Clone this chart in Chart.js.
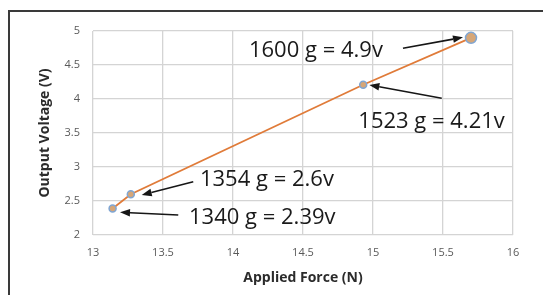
<!DOCTYPE html>
<html>
<head>
<meta charset="utf-8">
<script src="https://cdn.jsdelivr.net/npm/chart.js@4.4.1/dist/chart.umd.min.js"></script>
<style>
  html, body { margin: 0; padding: 0; background: #ffffff; overflow: hidden; }
  #wrap { position: relative; width: 543px; height: 295px; }
  #frame { position: absolute; left: 8px; top: 10px; width: 600px; height: 400px;
           border-top: 2px solid #3a3a3a; border-left: 2px solid #3a3a3a; }
  canvas { position: absolute; left: 0; top: 0; }
</style>
</head>
<body>
<div id="wrap">
  <div id="frame"></div>
  <canvas id="c" width="543" height="295"></canvas>
</div>
<script>
// ---- data ----
const forceN = [13.14, 13.27, 14.93, 15.70];
const voltage = [2.39, 2.6, 4.21, 4.9];
const xTicksMin = 13, xTicksMax = 16, xStep = 0.5;
const yTicksMin = 2, yTicksMax = 5, yStep = 0.5;

// annotations (positions in data units)
const annText = ['1600 g = 4.9v', '1523 g = 4.21v', '1354 g = 2.6v', '1340 g = 2.39v'];
const annX = [14.114, 14.895, 13.764, 13.686];
const annY = [4.618, 3.578, 2.721, 2.162];
const arrowFromX = [15.214, 15.491, 13.716, 13.609];
const arrowFromY = [4.746, 4.010, 2.784, 2.294];
const arrowToX = [15.643, 14.974, 13.348, 13.193];
const arrowToY = [4.907, 4.206, 2.588, 2.334];

const fmt = v => String(Math.round(v * 10) / 10);

const annotationPlugin = {
  id: 'annots',
  afterDatasetsDraw(chart) {
    const ctx = chart.ctx;
    const xs = chart.scales.x, ys = chart.scales.y;
    ctx.save();
    // arrows
    for (let i = 0; i < annText.length; i++) {
      const x1 = xs.getPixelForValue(arrowFromX[i]), y1 = ys.getPixelForValue(arrowFromY[i]);
      const x2 = xs.getPixelForValue(arrowToX[i]), y2 = ys.getPixelForValue(arrowToY[i]);
      const ang = Math.atan2(y2 - y1, x2 - x1);
      const hl = 10, hw = 3.8;
      const bx = x2 - hl * Math.cos(ang), by = y2 - hl * Math.sin(ang);
      ctx.strokeStyle = '#161616';
      ctx.fillStyle = '#161616';
      ctx.lineWidth = 1.6;
      ctx.beginPath();
      ctx.moveTo(x1, y1);
      ctx.lineTo(bx, by);
      ctx.stroke();
      ctx.beginPath();
      ctx.moveTo(x2, y2);
      ctx.lineTo(bx + hw * Math.sin(ang), by - hw * Math.cos(ang));
      ctx.lineTo(bx - hw * Math.sin(ang), by + hw * Math.cos(ang));
      ctx.closePath();
      ctx.fill();
    }
    // labels
    ctx.font = '22px "Open Sans", sans-serif';
    ctx.fillStyle = '#1a1a1a';
    ctx.textAlign = 'left';
    ctx.textBaseline = 'alphabetic';
    for (let i = 0; i < annText.length; i++) {
      ctx.fillText(annText[i], xs.getPixelForValue(annX[i]), ys.getPixelForValue(annY[i]));
    }
    ctx.restore();
  }
};

new Chart(document.getElementById('c'), {
  type: 'scatter',
  data: {
    datasets: [{
      data: forceN.map((x, i) => ({ x: x, y: voltage[i] })),
      showLine: true,
      borderColor: '#e07b39',
      borderWidth: 1.8,
      pointRadius: ctx => ctx.dataIndex === forceN.length - 1 ? 5.5 : 3.5,
      pointBackgroundColor: '#d6a677',
      pointBorderColor: '#7fa6d4',
      pointBorderWidth: 1.5,
      tension: 0
    }]
  },
  plugins: [annotationPlugin],
  options: {
    responsive: false,
    animation: false,
    devicePixelRatio: 1,
    layout: { padding: { left: 0, top: 31, right: 30, bottom: 0 } },
    plugins: { legend: { display: false }, tooltip: { enabled: false } },
    scales: {
      x: {
        type: 'linear',
        min: xTicksMin, max: xTicksMax,
        afterFit: s => { s.height = 60; },
        ticks: { stepSize: xStep, padding: 11, color: '#595959', callback: fmt,
                 font: { family: '"Open Sans", sans-serif', size: 11 } },
        grid: { color: '#d4d4d4', lineWidth: 1.3, drawTicks: false },
        border: { display: false },
        title: { display: true, text: 'Applied Force (N)', color: '#2b2b2b',
                 font: { family: '"Open Sans", sans-serif', size: 14, weight: 'bold' },
                 padding: { top: 0, bottom: 8.6 } }
      },
      y: {
        type: 'linear',
        min: yTicksMin, max: yTicksMax,
        afterFit: s => { s.width = 93; },
        ticks: { stepSize: yStep, padding: 13, color: '#595959', callback: fmt,
                 font: { family: '"Open Sans", sans-serif', size: 11 } },
        grid: { color: '#d4d4d4', lineWidth: 1.3, drawTicks: false },
        border: { display: false },
        title: { display: true, text: 'Output Voltage (V)', color: '#2b2b2b',
                 font: { family: '"Open Sans", sans-serif', size: 14, weight: 'bold' },
                 padding: { top: 36.6, bottom: 0 } }
      }
    }
  }
});
</script>
</body>
</html>
